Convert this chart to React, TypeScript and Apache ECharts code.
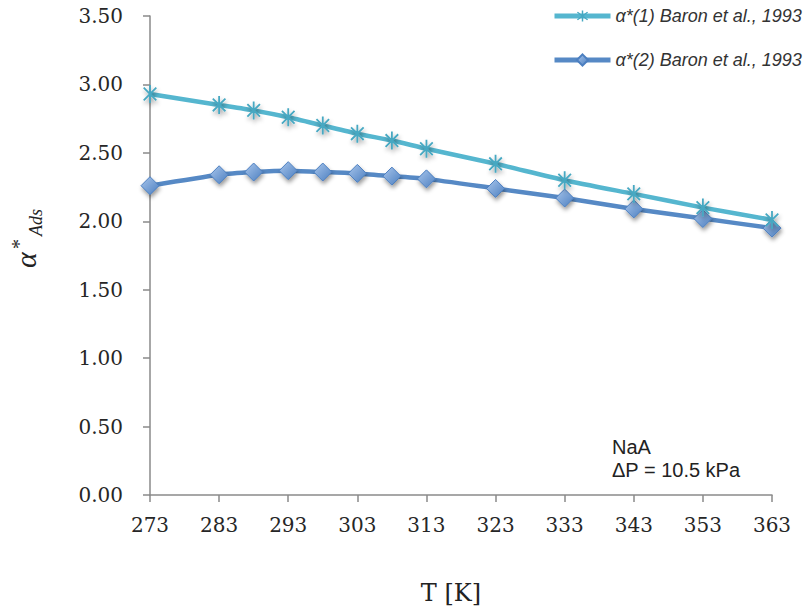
import React, { useEffect, useRef } from "react";
import * as echarts from "echarts";

const temperatures = [273, 283, 288, 293, 298, 303, 308, 313, 323, 333, 343, 353, 363];
const alpha1 = [2.93, 2.85, 2.81, 2.76, 2.70, 2.64, 2.59, 2.53, 2.42, 2.30, 2.20, 2.10, 2.01];
const alpha2 = [2.26, 2.34, 2.36, 2.37, 2.36, 2.35, 2.33, 2.31, 2.24, 2.17, 2.09, 2.02, 1.95];
const xTicks = [273, 283, 293, 303, 313, 323, 333, 343, 353, 363];
const seriesNames = ["α*(1) Baron et al., 1993", "α*(2) Baron et al., 1993"];
const noteLines = ["NaA", "ΔP = 10.5 kPa"];

const STAR =
  "path://M9,0L11,0L11,20L9,20Z M2.29,3.71L3.71,2.29L17.71,16.29L16.29,17.71Z M16.29,2.29L17.71,3.71L3.71,17.71L2.29,16.29Z";

export default function App() {
  const ref = useRef<HTMLDivElement>(null);
  useEffect(() => {
    if (!ref.current) return;
    const chart = echarts.init(ref.current, undefined, { renderer: "svg" });
    const c1 = "#55B6CF";
    const c2 = "#5689C5";
    const serif = '"DejaVu Serif", serif';
    chart.setOption({
      animation: false,
      backgroundColor: "#ffffff",
      grid: { left: 150, right: 32, top: 16, bottom: 117 },
      legend: {
        orient: "vertical",
        left: 547,
        top: 2,
        itemWidth: 56,
        itemHeight: 14,
        itemGap: 26,
        data: seriesNames,
        lineStyle: { width: 5 },
        textStyle: {
          fontFamily: '"Liberation Sans", Arial, sans-serif',
          fontStyle: "italic",
          fontSize: 18,
          color: "#333",
        },
      },
      xAxis: {
        type: "value",
        min: 273,
        max: 363,
        splitLine: { show: false },
        axisLine: { lineStyle: { color: "#8a8a8a", width: 1.5 } },
        axisTick: { customValues: xTicks, length: 7, lineStyle: { color: "#8a8a8a", width: 1.5 } },
        axisLabel: {
          customValues: xTicks,
          margin: 20,
          fontFamily: serif,
          fontSize: 20,
          color: "#262626",
        },
      },
      yAxis: {
        type: "value",
        min: 0,
        max: 3.5,
        interval: 0.5,
        splitLine: { show: false },
        axisLine: { show: true, lineStyle: { color: "#8a8a8a", width: 1.5 } },
        axisTick: { show: true, length: 7, lineStyle: { color: "#8a8a8a", width: 1.5 } },
        axisLabel: {
          margin: 27,
          fontFamily: serif,
          fontSize: 20,
          color: "#262626",
          formatter: (v: number) => v.toFixed(2),
        },
      },
      graphic: [
        {
          type: "group",
          x: 25,
          y: 268,
          rotation: Math.PI / 2,
          children: [
            {
              type: "text",
              x: 0,
              y: 0,
              style: {
                text: "α",
                font: 'italic 30px "Liberation Serif", serif',
                fill: "#222",
                align: "left",
                verticalAlign: "middle",
              },
            },
            {
              type: "text",
              x: 19,
              y: -6,
              style: {
                text: "*",
                font: '20px "Liberation Serif", serif',
                fill: "#222",
                align: "left",
                verticalAlign: "middle",
              },
            },
            {
              type: "text",
              x: 32,
              y: 11,
              style: {
                text: "Ads",
                font: 'italic 18px "Liberation Serif", serif',
                fill: "#222",
                align: "left",
                verticalAlign: "middle",
              },
            },
          ],
        },
        {
          type: "text",
          x: 451,
          y: 593,
          style: {
            text: "T [K]",
            font: '24px "DejaVu Serif", serif',
            fill: "#222",
            align: "center",
            verticalAlign: "middle",
          },
        },
        {
          type: "text",
          x: 612,
          y: 435,
          style: {
            text: noteLines.join("\n"),
            font: '20px "Liberation Sans", Arial, sans-serif',
            lineHeight: 23,
            fill: "#222",
            align: "left",
            verticalAlign: "top",
          },
        },
      ],
      series: [
        {
          name: seriesNames[0],
          type: "line",
          data: temperatures.map((t, i) => [t, alpha1[i]]),
          smooth: 0.2,
          symbol: STAR,
          symbolKeepAspect: true,
          symbolSize: 18,
          lineStyle: { color: c1, width: 4.5 },
          itemStyle: {
            color: "#46A8C2",
            shadowColor: "rgba(0,0,0,0.4)",
            shadowBlur: 4,
            shadowOffsetX: 1,
            shadowOffsetY: 3,
          },
          z: 3,
        },
        {
          name: seriesNames[1],
          type: "line",
          data: temperatures.map((t, i) => [t, alpha2[i]]),
          smooth: 0.2,
          symbol: "diamond",
          symbolSize: 18,
          lineStyle: { color: c2, width: 4.5 },
          itemStyle: {
            color: new echarts.graphic.LinearGradient(0, 0, 1, 1, [
              { offset: 0, color: "#A9C6EC" },
              { offset: 1, color: "#4C7FC0" },
            ]),
            borderColor: "#4C7FC0",
            borderWidth: 1,
            shadowColor: "rgba(0,0,0,0.4)",
            shadowBlur: 4,
            shadowOffsetX: 1,
            shadowOffsetY: 3,
          },
          z: 2,
        },
      ],
    });
    return () => chart.dispose();
  }, []);
  return (
    <div
      ref={ref}
      style={{ position: "fixed", left: 0, top: 0, width: 804, height: 612 }}
    />
  );
}
